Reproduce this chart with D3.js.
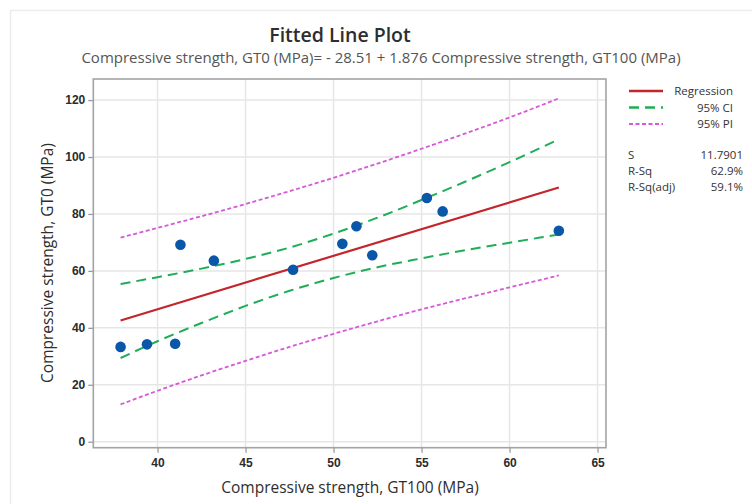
<!DOCTYPE html>
<html>
<head>
<meta charset="utf-8">
<script src="https://cdn.jsdelivr.net/npm/d3@7"></script>
<style>
  html, body { margin: 0; padding: 0; background: #fff; }
  svg { display: block; font-family: "Open Sans", "Noto Sans", sans-serif; }
</style>
</head>
<body>
<svg id="chart" width="752" height="504"></svg>
<script>
// Observations: compressive strength at GT100 (x) and GT0 (y), MPa
const gt100 = [37.9, 39.4, 41.0, 41.3, 43.2, 47.7, 50.5, 51.3, 52.2, 55.3, 56.2, 62.8];
const gt0   = [33.3, 34.2, 34.4, 69.2, 63.6, 60.4, 69.5, 75.7, 65.5, 85.6, 80.9, 74.1];

// Fitted line: GT0 = -28.51 + 1.876 * GT100
const intercept = -28.51;
const slope = 1.876;

// Confidence / prediction bands sampled along the fitted range
const bandX   = [37.9, 40, 42.5, 45, 47.5, 50, 52.5, 55, 57.5, 60, 62.8];
const ciLower = [29.4, 35.3, 41.7, 47.7, 53.0, 57.5, 61.3, 64.4, 67.3, 69.9, 72.8];
const ciUpper = [55.4, 57.8, 60.8, 64.2, 68.2, 73.1, 78.7, 84.9, 91.4, 98.2, 106.2];
const piLower = [13.1, 17.9, 23.3, 28.4, 33.3, 37.9, 42.3, 46.5, 50.4, 54.2, 58.4];
const piUpper = [71.7, 75.1, 79.2, 83.5, 88.0, 92.7, 97.7, 102.9, 108.3, 113.9, 120.6];

const xTicks = [40, 45, 50, 55, 60, 65];
const yTicks = [0, 20, 40, 60, 80, 100, 120];

const legendItems = [
  { label: "Regression", color: "#c3252b", dash: null, width: 2.2 },
  { label: "95% CI", color: "#1fae57", dash: "10,6", width: 2 },
  { label: "95% PI", color: "#d659d9", dash: "4,2.5", width: 1.8 }
];
const statLabels = ["S", "R-Sq", "R-Sq(adj)"];
const statValues = ["11.7901", "62.9%", "59.1%"];

const svg = d3.select("#chart");

// Faint outer panel border
svg.append("rect")
  .attr("x", 10.5).attr("y", 10.5).attr("width", 800).attr("height", 600)
  .attr("fill", "none").attr("stroke", "#ececec").attr("stroke-width", 1.5);

const plot = { left: 93.3, right: 606, top: 79, bottom: 447.7 };

const x = d3.scaleLinear().domain([36.35, 65.48]).range([plot.left, plot.right]);
const y = d3.scaleLinear().domain([-2.1, 127.4]).range([plot.bottom, plot.top]);

// Gridlines
const grid = svg.append("g");
grid.selectAll("line.gx").data(xTicks).join("line")
  .attr("x1", d => x(d)).attr("x2", d => x(d))
  .attr("y1", plot.top).attr("y2", plot.bottom)
  .attr("stroke", "#e6e6e6").attr("stroke-width", 1.5);
grid.selectAll("line.gy").data(yTicks).join("line")
  .attr("y1", d => y(d)).attr("y2", d => y(d))
  .attr("x1", plot.left).attr("x2", plot.right)
  .attr("stroke", "#e6e6e6").attr("stroke-width", 1.5);

// Axes
const xAxis = d3.axisBottom(x).tickValues(xTicks).tickSize(5).tickPadding(6);
const yAxis = d3.axisLeft(y).tickValues(yTicks).tickSize(5).tickPadding(3);

const gx = svg.append("g").attr("transform", `translate(0,${plot.bottom})`).call(xAxis);
const gy = svg.append("g").attr("transform", `translate(${plot.left},0)`).call(yAxis);
[gx, gy].forEach(g => {
  g.select(".domain").remove();
  g.selectAll(".tick line").attr("stroke", "#9a9a9a").attr("stroke-width", 1.3);
  g.selectAll(".tick text")
    .attr("fill", "#2b2b2b")
    .style("font-size", "12px")
    .style("font-weight", "600");
});

// Plot frame
svg.append("rect")
  .attr("x", plot.left).attr("y", plot.top)
  .attr("width", plot.right - plot.left).attr("height", plot.bottom - plot.top)
  .attr("fill", "none").attr("stroke", "#a3a3a3").attr("stroke-width", 1.6);

// Bands
const bandLine = vals => d3.line()
  .x((d, i) => x(bandX[i]))
  .y(d => y(d))
  .curve(d3.curveMonotoneX)(vals);

const lines = svg.append("g").attr("fill", "none");
[piUpper, piLower].forEach(v => lines.append("path")
  .attr("d", bandLine(v))
  .attr("stroke", legendItems[2].color).attr("stroke-width", legendItems[2].width)
  .attr("stroke-dasharray", legendItems[2].dash));
[ciUpper, ciLower].forEach(v => lines.append("path")
  .attr("d", bandLine(v))
  .attr("stroke", legendItems[1].color).attr("stroke-width", legendItems[1].width)
  .attr("stroke-dasharray", legendItems[1].dash));

// Regression line over the observed GT100 range
const [xMin, xMax] = d3.extent(gt100);
lines.append("path")
  .attr("d", d3.line().x(d => x(d)).y(d => y(intercept + slope * d))([xMin, xMax]))
  .attr("stroke", legendItems[0].color).attr("stroke-width", legendItems[0].width);

// Points
svg.append("g").selectAll("circle").data(gt100).join("circle")
  .attr("cx", d => x(d))
  .attr("cy", (d, i) => y(gt0[i]))
  .attr("r", 5.3)
  .attr("fill", "#0a56a8");

// Titles
svg.append("text")
  .attr("x", 340).attr("y", 42).attr("text-anchor", "middle")
  .attr("fill", "#2e2e2e").style("font-size", "19.5px").style("font-weight", "600")
  .text("Fitted Line Plot");
svg.append("text")
  .attr("x", 381).attr("y", 63).attr("text-anchor", "middle")
  .attr("fill", "#555").style("font-size", "15px")
  .text("Compressive strength, GT0 (MPa)= - 28.51 + 1.876 Compressive strength, GT100 (MPa)");

svg.append("text")
  .attr("x", 350).attr("y", 493).attr("text-anchor", "middle")
  .attr("fill", "#2e2e2e").style("font-size", "15.5px")
  .text("Compressive strength, GT100 (MPa)");
svg.append("text")
  .attr("transform", "translate(53,263) rotate(-90)").attr("text-anchor", "middle")
  .attr("fill", "#2e2e2e").style("font-size", "15.5px")
  .text("Compressive strength, GT0 (MPa)");

// Legend
const leg = svg.append("g");
legendItems.forEach((it, i) => {
  const ly = 91 + i * 16.5;
  leg.append("line")
    .attr("x1", 629).attr("x2", 663).attr("y1", ly).attr("y2", ly)
    .attr("stroke", it.color).attr("stroke-width", it.width + 0.4)
    .attr("stroke-dasharray", it.dash);
  leg.append("text")
    .attr("x", 733).attr("y", ly + 4).attr("text-anchor", "end")
    .attr("fill", "#333").style("font-size", "11.5px")
    .text(it.label);
});
statLabels.forEach((s, i) => {
  const ly = 159 + i * 16;
  leg.append("text").attr("x", 628).attr("y", ly)
    .attr("fill", "#333").style("font-size", "11.5px").text(s);
  leg.append("text").attr("x", 743).attr("y", ly).attr("text-anchor", "end")
    .attr("fill", "#333").style("font-size", "11.5px").text(statValues[i]);
});
</script>
</body>
</html>
